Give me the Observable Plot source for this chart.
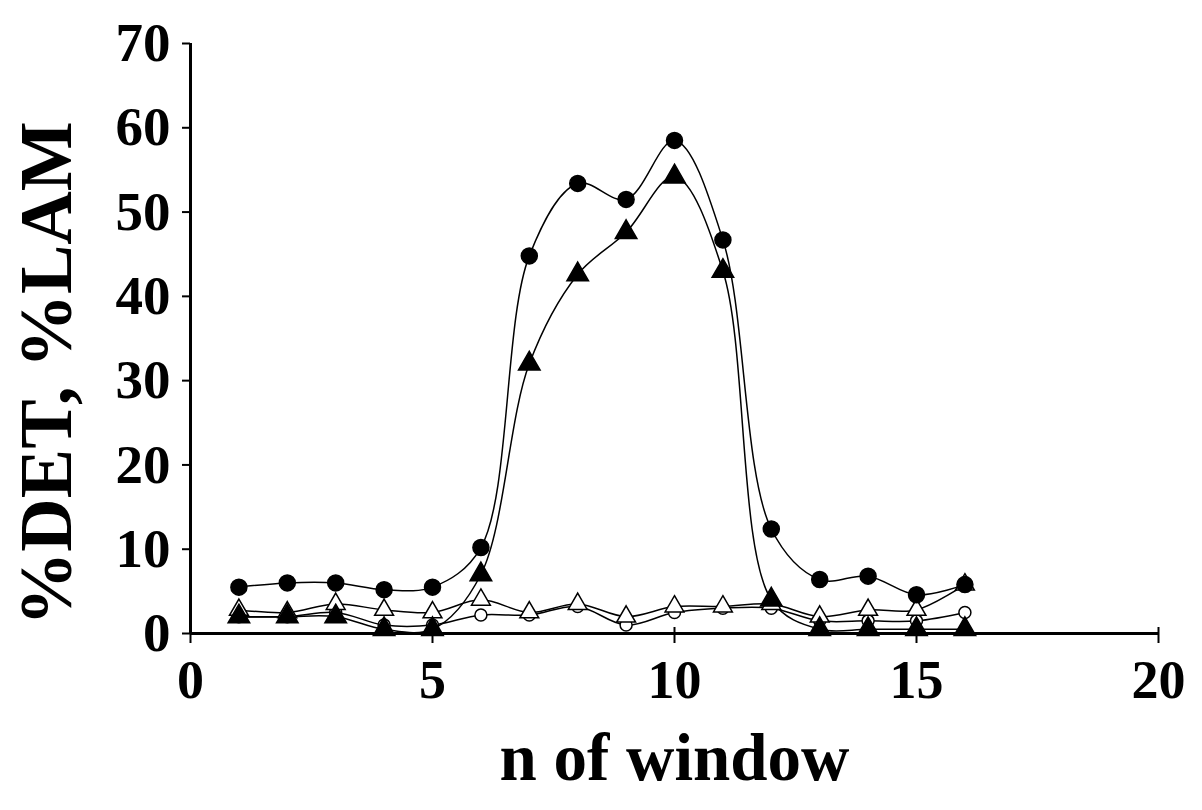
<!DOCTYPE html>
<html>
<head>
<meta charset="utf-8">
<script src="https://cdn.jsdelivr.net/npm/d3@7"></script>
<script src="https://cdn.jsdelivr.net/npm/@observablehq/plot@0.6"></script>
<style>
  html, body { margin: 0; padding: 0; background: #fff; }
  #chart svg { display: block; }
</style>
</head>
<body>
<div id="chart"></div>
<script>
const windows = [1, 2, 3, 4, 5, 6, 7, 8, 9, 10, 11, 12, 13, 14, 15, 16];
const filledCircle = [5.5, 6.0, 6.0, 5.2, 5.5, 10.2, 44.8, 53.4, 51.5, 58.5, 46.7, 12.4, 6.4, 6.8, 4.6, 5.8];
const filledTriangle = [2.0, 2.0, 2.0, 0.5, 0.5, 7.0, 32.0, 42.6, 47.6, 54.2, 43.0, 4.0, 0.5, 0.5, 0.5, 0.5];
const openTriangle = [2.8, 2.5, 3.5, 2.8, 2.5, 4.0, 2.5, 3.5, 2.0, 3.2, 3.2, 3.5, 2.0, 2.8, 2.8, 5.8];
const openCircle = [2.0, 2.0, 2.5, 1.0, 1.0, 2.2, 2.2, 3.2, 1.0, 2.5, 3.0, 3.0, 1.5, 1.5, 1.5, 2.5];
const xTicks = [0, 5, 10, 15, 20];
const yTicks = [0, 10, 20, 30, 40, 50, 60, 70];

const toRows = (vals, name) => windows.map((w, i) => ({window: w, value: vals[i], series: name}));
const fc = toRows(filledCircle, "fc");
const ft = toRows(filledTriangle, "ft");
const ot = toRows(openTriangle, "ot");
const oc = toRows(openCircle, "oc");

const font = "'Liberation Serif', 'Times New Roman', serif";

const chart = Plot.plot({
  width: 1202,
  height: 810,
  marginLeft: 190,
  marginRight: 44,
  marginTop: 43,
  marginBottom: 177,
  style: {fontFamily: font, fontWeight: "bold", fontSize: "54px", color: "#000", background: "#fff"},
  x: {domain: [0, 20], ticks: xTicks, label: null},
  y: {domain: [0, 70], ticks: yTicks, label: null},
  marks: [
    Plot.line(oc, {x: "window", y: "value", curve: "catmull-rom", stroke: "#000", strokeWidth: 1.5}),
    Plot.line(ot, {x: "window", y: "value", curve: "catmull-rom", stroke: "#000", strokeWidth: 1.5}),
    Plot.line(ft, {x: "window", y: "value", curve: "catmull-rom", stroke: "#000", strokeWidth: 1.5}),
    Plot.line(fc, {x: "window", y: "value", curve: "catmull-rom", stroke: "#000", strokeWidth: 1.5}),
    Plot.dot(oc, {x: "window", y: "value", symbol: "circle", r: 6, fill: "#fff", stroke: "#000", strokeWidth: 1.5}),
    Plot.dot(ot, {x: "window", y: "value", symbol: "triangle", r: 7, fill: "#fff", stroke: "#000", strokeWidth: 1.5}),
    Plot.dot(ft, {x: "window", y: "value", symbol: "triangle", r: 8, fill: "#000", stroke: "#000"}),
    Plot.dot(fc, {x: "window", y: "value", symbol: "circle", r: 8, fill: "#000", stroke: "#000"}),
    Plot.ruleY([0], {stroke: "#000", strokeWidth: 3}),
    Plot.ruleX([0], {stroke: "#000", strokeWidth: 3}),
    Plot.axisX({ticks: xTicks, tickSize: 10, tickPadding: 16, tickFormat: d => String(d), fontSize: 54, fontWeight: "bold", fontFamily: font, strokeWidth: 2, label: null}),
    Plot.axisX({ticks: xTicks, anchor: "bottom", tickSize: -6, tickFormat: () => "", strokeWidth: 2, label: null}),
    Plot.axisY({ticks: yTicks, tickSize: 8, tickPadding: 12, tickFormat: d => String(d), fontSize: 55, fontWeight: "bold", fontFamily: font, strokeWidth: 2, label: null}),
    Plot.text(["n of window"], {frameAnchor: "bottom", dy: 146, text: d => d, fontSize: 67, fontWeight: "bold", fontFamily: font}),
    Plot.text(["%DET, %LAM"], {frameAnchor: "left", textAnchor: "middle", dx: -143, dy: 35, rotate: -90, text: d => d, fontSize: 74, fontWeight: "bold", fontFamily: font})
  ]
});
document.getElementById("chart").appendChild(chart);
</script>
</body>
</html>
